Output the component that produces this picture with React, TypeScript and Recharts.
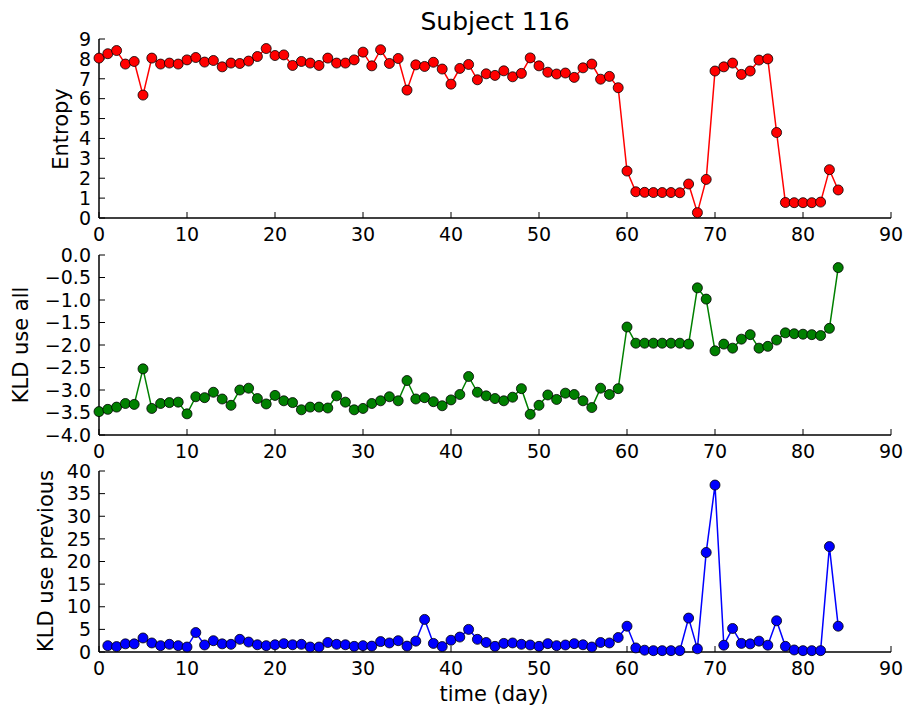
import { LineChart, Line, XAxis, YAxis } from "recharts";

const days = Array.from({ length: 85 }, (_, i) => i);

const entropy = [
  8.04, 8.26, 8.42, 7.74, 7.87, 6.18, 8.04, 7.74, 7.79, 7.74,
  7.95, 8.07, 7.84, 7.92, 7.6, 7.79, 7.77, 7.89, 8.12, 8.52,
  8.17, 8.2, 7.67, 7.87, 7.79, 7.67, 8.04, 7.79, 7.79, 7.95,
  8.34, 7.65, 8.46, 7.77, 8.02, 6.43, 7.7, 7.62, 7.83, 7.49,
  6.73, 7.52, 7.72, 6.95, 7.25, 7.17, 7.4, 7.1, 7.27, 8.05,
  7.65, 7.33, 7.24, 7.29, 7.07, 7.55, 7.74, 6.98, 7.12, 6.55,
  2.36, 1.32, 1.29, 1.28, 1.28, 1.28, 1.27, 1.71, 0.27, 1.94,
  7.39, 7.6, 7.79, 7.22, 7.39, 7.94, 8.0, 4.3, 0.78, 0.77,
  0.77, 0.77, 0.8, 2.43, 1.41,
];

const kldAll = [
  -3.48, -3.43, -3.38, -3.3, -3.32, -2.53, -3.41, -3.3, -3.28, -3.27,
  -3.53, -3.15, -3.17, -3.05, -3.2, -3.34, -3.0, -2.96, -3.19, -3.31,
  -3.12, -3.24, -3.28, -3.44, -3.38, -3.38, -3.4, -3.13, -3.27, -3.44,
  -3.41, -3.3, -3.24, -3.15, -3.24, -2.79, -3.2, -3.17, -3.26, -3.35,
  -3.22, -3.1, -2.7, -3.05, -3.13, -3.19, -3.24, -3.16, -2.97, -3.54,
  -3.34, -3.11, -3.21, -3.07, -3.1, -3.24, -3.39, -2.96, -3.1, -2.97,
  -1.6, -1.96, -1.96, -1.96, -1.96, -1.96, -1.96, -1.98, -0.73, -0.98,
  -2.13, -1.98, -2.07, -1.87, -1.77, -2.07, -2.03, -1.89, -1.73, -1.75,
  -1.76, -1.77, -1.79, -1.63, -0.28,
];

// starts at day 1
const kldPrev = [
  1.4, 1.2, 1.8, 1.8, 3.1, 2.0, 1.4, 1.7, 1.4,
  1.1, 4.3, 1.55, 2.5, 1.8, 1.7, 2.8, 2.2, 1.6, 1.4,
  1.6, 1.85, 1.6, 1.7, 1.1, 1.1, 2.1, 1.7, 1.6, 1.25,
  1.4, 1.3, 2.3, 2.0, 2.5, 1.3, 2.4, 7.2, 1.9, 1.2,
  2.6, 3.3, 5.0, 2.8, 2.1, 1.25, 1.9, 2.0, 1.7, 1.55,
  1.25, 1.85, 1.4, 1.55, 1.85, 1.6, 1.1, 2.1, 2.0, 3.2,
  5.7, 0.9, 0.4, 0.3, 0.3, 0.3, 0.3, 7.5, 0.7, 22.0,
  36.9, 1.5, 5.2, 1.9, 1.8, 2.4, 1.5, 6.9, 1.25, 0.45,
  0.3, 0.3, 0.3, 23.3, 5.7,
];

const xTicks = [0, 10, 20, 30, 40, 50, 60, 70, 80, 90];
const entropyTicks = [0, 1, 2, 3, 4, 5, 6, 7, 8, 9];
const kldAllTicks = [-4, -3.5, -3, -2.5, -2, -1.5, -1, -0.5, 0];
const kldPrevTicks = [0, 5, 10, 15, 20, 25, 30, 35, 40];

const topData = days.map((d, i) => ({ day: d, v: entropy[i] }));
const midData = days.map((d, i) => ({ day: d, v: kldAll[i] }));
const botData = days.slice(1).map((d, i) => ({ day: d, v: kldPrev[i] }));

const FONT = "DejaVu Sans, sans-serif";
const tickStyle = { fill: "#000", fontSize: 19, fontFamily: FONT };
const W = 907;

function fmtMinus(v: number) {
  const s = v.toFixed(1);
  return s.replace("-", "\u2212");
}

function Panel(props: {
  data: { day: number; v: number }[];
  top: number;
  height: number;
  marginTop: number;
  domain: [number, number];
  ticks: number[];
  color: string;
  fmt?: (v: number) => string;
}) {
  const { data, top, height, marginTop, domain, ticks, color, fmt } = props;
  const axisLine = { stroke: "#000", strokeWidth: 1.5 };
  const tickLine = { stroke: "#000", strokeWidth: 1 };
  return (
    <div style={{ position: "absolute", left: 0, top }}>
      <LineChart
        width={W}
        height={height}
        data={data}
        margin={{ top: marginTop, right: 16, bottom: 0, left: 0 }}
        style={{ overflow: "visible" }}
      >
        <XAxis
          dataKey="day"
          type="number"
          domain={[0, 90]}
          ticks={xTicks}
          interval={0}
          height={32}
          tickSize={-6}
          tickMargin={16}
          axisLine={axisLine}
          tickLine={tickLine}
          tick={tickStyle}
        />
        <XAxis
          xAxisId="top"
          orientation="top"
          type="number"
          domain={[0, 90]}
          ticks={xTicks}
          interval={0}
          height={0}
          tickSize={-6}
          axisLine={axisLine}
          tickLine={tickLine}
          tick={false}
        />
        <YAxis
          type="number"
          domain={domain}
          ticks={ticks}
          interval={0}
          width={99}
          tickSize={-6}
          tickMargin={14}
          axisLine={axisLine}
          tickLine={tickLine}
          tick={tickStyle}
          tickFormatter={fmt}
        />
        <YAxis
          yAxisId="r"
          orientation="right"
          type="number"
          domain={domain}
          ticks={ticks}
          interval={0}
          width={0}
          tickSize={-6}
          axisLine={axisLine}
          tickLine={tickLine}
          tick={false}
        />
        <Line
          dataKey="v"
          stroke={color}
          strokeWidth={1.5}
          isAnimationActive={false}
          dot={{ r: 5, fill: color, stroke: "#000", strokeWidth: 0.8 }}
        />
      </LineChart>
    </div>
  );
}

export default function App() {
  return (
    <div
      style={{
        position: "absolute",
        left: 0,
        top: 0,
        width: W,
        height: 713,
        background: "#fff",
        fontFamily: FONT,
      }}
    >
      <Panel
        data={topData}
        top={0}
        height={250}
        marginTop={39}
        domain={[0, 9]}
        ticks={entropyTicks}
        color="#ff0000"
      />
      <Panel
        data={midData}
        top={235}
        height={232}
        marginTop={20}
        domain={[-4, 0]}
        ticks={kldAllTicks}
        color="#008000"
        fmt={fmtMinus}
      />
      <Panel
        data={botData}
        top={450}
        height={234}
        marginTop={21}
        domain={[0, 40]}
        ticks={kldPrevTicks}
        color="#0000ff"
      />
      <svg
        width={W}
        height={713}
        style={{ position: "absolute", left: 0, top: 0, pointerEvents: "none" }}
      >
        <g fontFamily={FONT} fill="#000">
          <text x={495} y={30} fontSize={25} textAnchor="middle">
            Subject 116
          </text>
          <text x={494} y={701} fontSize={21} textAnchor="middle">
            time (day)
          </text>
          <text
            transform="translate(68,129) rotate(-90)"
            fontSize={21}
            textAnchor="middle"
          >
            Entropy
          </text>
          <text
            transform="translate(28,345) rotate(-90)"
            fontSize={21}
            textAnchor="middle"
          >
            KLD use all
          </text>
          <text
            transform="translate(53,561) rotate(-90)"
            fontSize={21}
            textAnchor="middle"
          >
            KLD use previous
          </text>
        </g>
      </svg>
    </div>
  );
}
